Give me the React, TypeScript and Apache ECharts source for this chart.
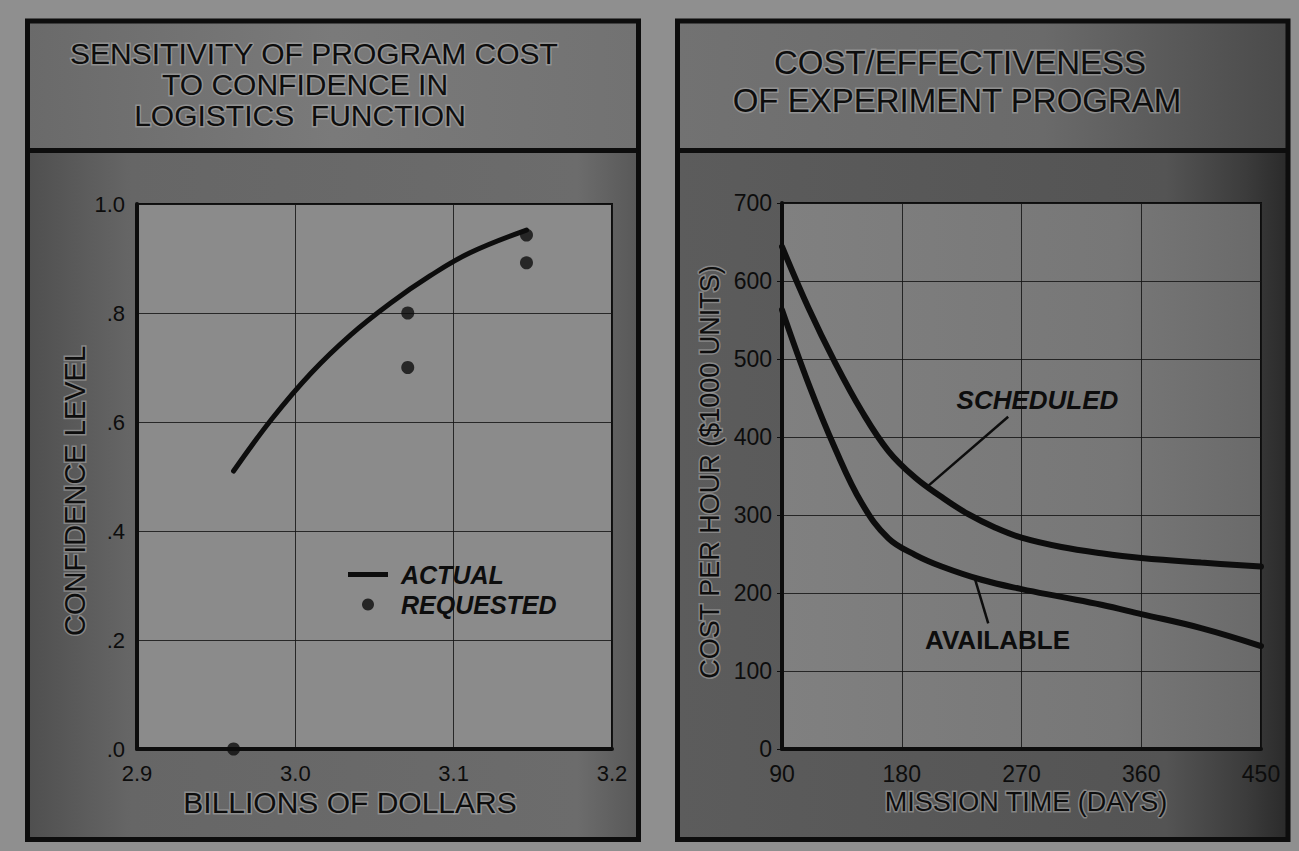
import React, { useEffect, useRef } from 'react';
import * as echarts from 'echarts';

// ---- Left chart: sensitivity of program cost ----
const costTicks = ['2.9', '3.0', '3.1', '3.2'];
const confidenceTicks = ['.0', '.2', '.4', '.6', '.8', '1.0'];
const actualCost = [2.961, 2.985, 3.01, 3.035, 3.06, 3.085, 3.11, 3.146];
const actualConfidence = [0.51, 0.605, 0.69, 0.76, 0.818, 0.868, 0.91, 0.952];
const requestedCost = [2.961, 3.071, 3.071, 3.146, 3.146];
const requestedConfidence = [0.0, 0.8, 0.7, 0.943, 0.892];

// ---- Right chart: cost / effectiveness ----
const missionTicks = ['90', '180', '270', '360', '450'];
const costPerHourTicks = ['0', '100', '200', '300', '400', '500', '600', '700'];
const scheduledDays = [90, 110, 130, 150, 170, 190, 210, 230, 250, 270, 300, 330, 360, 405, 450];
const scheduledCost = [644, 565, 495, 433, 382, 348, 323, 301, 284, 271, 259, 251, 245, 239, 234];
const availableDays = [90, 110, 130, 150, 170, 190, 210, 240, 270, 300, 330, 360, 405, 450];
const availableCost = [563, 468, 385, 315, 270, 249, 234, 217, 205, 195, 185, 173, 155, 132];

// annotation anchors (data coordinates)
const scheduledPointer = [[260, 426], [199, 336]];
const scheduledLabelAt = [282, 447];
const availablePointer = [[245, 161], [235, 218]];
const availableLabelAt = [252, 140];

const FONT = '"Liberation Sans", Arial, sans-serif';
const INK = '#0d0d0d';

const lin = (stops: [number, string][], vertical = false) =>
  new echarts.graphic.LinearGradient(0, 0, vertical ? 0 : 1, vertical ? 1 : 0,
    stops.map(([offset, color]) => ({ offset, color })));

const txt = (text: string, x: number, y: number, size: number, extra: any = {}) => ({
  type: 'text',
  x,
  y,
  z: 30,
  rotation: extra.rotation || 0,
  style: {
    text,
    fill: INK,
    fontSize: size,
    fontFamily: FONT,
    fontWeight: extra.weight || 'normal',
    align: 'center',
    verticalAlign: 'middle',
    stroke: 'rgba(175,175,175,0.55)',
    lineWidth: 3,
    strokeFirst: true,
  },
});

function buildOption() {
  const graphic: any[] = [
    // left panel fills
    { type: 'rect', z: -20, shape: { x: 27.5, y: 21, width: 611, height: 130 },
      style: { fill: lin([[0, '#6a6a6a'], [0.5, '#7a7a7a'], [1, '#727272']]) } },
    { type: 'rect', z: -20, shape: { x: 27.5, y: 150, width: 611, height: 689.5 },
      style: { fill: lin([[0, '#4f4f4f'], [0.17, '#666666'], [0.9, '#6c6c6c'], [1, '#585858']]) } },
    // right panel fills
    { type: 'rect', z: -20, shape: { x: 677.5, y: 21, width: 610.5, height: 130 },
      style: { fill: lin([[0, '#727272'], [0.6, '#6a6a6a'], [1, '#4a4a4a']]) } },
    { type: 'rect', z: -20, shape: { x: 677.5, y: 150, width: 610.5, height: 689.5 },
      style: { fill: lin([[0, '#5c5c5c'], [0.8, '#545454'], [0.93, '#3c3c3c'], [1, '#2a2a2a']]) } },
    // borders
    { type: 'rect', z: 25, shape: { x: 27.5, y: 21, width: 611, height: 818.5 },
      style: { fill: 'none', stroke: INK, lineWidth: 5 } },
    { type: 'line', z: 25, shape: { x1: 27.5, y1: 150.5, x2: 638.5, y2: 150.5 },
      style: { stroke: INK, lineWidth: 5 } },
    { type: 'rect', z: 25, shape: { x: 677.5, y: 21, width: 610.5, height: 818.5 },
      style: { fill: 'none', stroke: INK, lineWidth: 5 } },
    { type: 'line', z: 25, shape: { x1: 677.5, y1: 150.5, x2: 1288, y2: 150.5 },
      style: { stroke: INK, lineWidth: 5 } },
    // titles
    txt('SENSITIVITY OF PROGRAM COST', 314, 53, 30),
    txt('TO CONFIDENCE IN', 305, 84, 30),
    txt('LOGISTICS  FUNCTION', 300, 115, 30),
    txt('COST/EFFECTIVENESS', 960, 62, 33),
    txt('OF EXPERIMENT PROGRAM', 957, 100, 33),
    // axis titles
    txt('CONFIDENCE LEVEL', 75, 491, 29, { rotation: Math.PI / 2 }),
    txt('BILLIONS OF DOLLARS', 350, 802, 30),
    txt('COST PER HOUR ($1000 UNITS)', 710, 472, 27, { rotation: Math.PI / 2 }),
    txt('MISSION TIME (DAYS)', 1026, 802, 27),
  ];

  const splitLine = { show: true, lineStyle: { color: '#151515', width: 1, opacity: 0.85 } };
  const tickLabel = { color: INK, fontSize: 22, fontFamily: FONT };

  const labelStyle = (weight: string, italic: boolean) => ({
    show: true,
    position: 'inside',
    formatter: (p: any) => p.name,
    color: INK,
    fontSize: 26,
    fontWeight: weight,
    fontStyle: italic ? 'italic' : 'normal',
    fontFamily: FONT,
  });

  return {
    animation: false,
    backgroundColor: '#8f8f8f',
    graphic,
    legend: {
      left: 343,
      top: 557,
      orient: 'vertical',
      itemWidth: 40,
      itemHeight: 12,
      itemGap: 5,
      selectedMode: false,
      data: [
        { name: 'ACTUAL', icon: 'path://M0,0H40V5H0Z' },
        { name: 'REQUESTED', icon: 'circle' },
      ],
      textStyle: {
        color: INK,
        fontSize: 25,
        lineHeight: 22,
        fontWeight: 'bold',
        fontStyle: 'italic',
        fontFamily: FONT,
        padding: [0, 0, 0, 8],
      },
    },
    grid: [
      { left: 137, top: 204, width: 475, height: 545, show: true,
        backgroundColor: '#8b8b8b', borderColor: INK, borderWidth: 2 },
      { left: 782, top: 203, width: 479, height: 546, show: true,
        backgroundColor: lin([[0, '#808080'], [0.7, '#777777'], [1, '#6a6a6a']]),
        borderColor: INK, borderWidth: 2 },
    ],
    xAxis: [
      { type: 'value', gridIndex: 0, min: 2.9, max: 3.2, interval: 0.1,
        axisLine: { show: true, onZero: false, lineStyle: { color: INK, width: 4 } },
        axisTick: { show: false }, splitLine,
        axisLabel: { ...tickLabel, margin: 13,
          formatter: (v: number) => costTicks[Math.round((v - 2.9) * 10)] ?? '' } },
      { type: 'value', gridIndex: 1, min: 90, max: 450, interval: 90,
        axisLine: { show: true, onZero: false, lineStyle: { color: INK, width: 4 } },
        axisTick: { show: false }, splitLine,
        axisLabel: { ...tickLabel, fontSize: 23, margin: 13,
          formatter: (v: number) => missionTicks[Math.round((v - 90) / 90)] ?? '' } },
    ],
    yAxis: [
      { type: 'value', gridIndex: 0, min: 0, max: 1, interval: 0.2,
        axisLine: { show: true, lineStyle: { color: INK, width: 4 } },
        axisTick: { show: false }, splitLine,
        axisLabel: { ...tickLabel, margin: 12,
          formatter: (v: number) => confidenceTicks[Math.round(v * 5)] ?? '' } },
      { type: 'value', gridIndex: 1, min: 0, max: 700, interval: 100,
        axisLine: { show: true, lineStyle: { color: INK, width: 4 } },
        axisTick: { show: true, length: 5, lineStyle: { color: INK, width: 1 } }, splitLine,
        axisLabel: { ...tickLabel, fontSize: 23, margin: 10,
          formatter: (v: number) => costPerHourTicks[Math.round(v / 100)] ?? '' } },
    ],
    series: [
      { name: 'ACTUAL', type: 'line', xAxisIndex: 0, yAxisIndex: 0,
        data: actualCost.map((x, i) => [x, actualConfidence[i]]),
        smooth: 0.4, symbol: 'none',
        lineStyle: { color: INK, width: 5, cap: 'round' }, itemStyle: { color: INK }, z: 3 },
      { name: 'REQUESTED', type: 'scatter', xAxisIndex: 0, yAxisIndex: 0,
        data: requestedCost.map((x, i) => [x, requestedConfidence[i]]),
        symbolSize: 13, itemStyle: { color: INK }, clip: false, z: 4 },
      { name: 'SCHEDULED', type: 'line', xAxisIndex: 1, yAxisIndex: 1,
        data: scheduledDays.map((x, i) => [x, scheduledCost[i]]),
        smooth: 0.4, symbol: 'none',
        lineStyle: { color: INK, width: 6, cap: 'round' }, itemStyle: { color: INK }, z: 3 },
      { name: 'AVAILABLE', type: 'line', xAxisIndex: 1, yAxisIndex: 1,
        data: availableDays.map((x, i) => [x, availableCost[i]]),
        smooth: 0.4, symbol: 'none',
        lineStyle: { color: INK, width: 6, cap: 'round' }, itemStyle: { color: INK }, z: 3 },
      { name: 'scheduled-pointer', type: 'line', xAxisIndex: 1, yAxisIndex: 1,
        data: scheduledPointer, symbol: 'none', silent: true,
        lineStyle: { color: INK, width: 2.5 }, z: 3,
        markPoint: { symbol: 'rect', symbolSize: 1, silent: true,
          itemStyle: { color: 'rgba(0,0,0,0)' },
          label: labelStyle('bold', true),
          data: [{ name: 'SCHEDULED', coord: scheduledLabelAt }] } },
      { name: 'available-pointer', type: 'line', xAxisIndex: 1, yAxisIndex: 1,
        data: availablePointer, symbol: 'none', silent: true,
        lineStyle: { color: INK, width: 2.5 }, z: 3,
        markPoint: { symbol: 'rect', symbolSize: 1, silent: true,
          itemStyle: { color: 'rgba(0,0,0,0)' },
          label: labelStyle('bold', false),
          data: [{ name: 'AVAILABLE', coord: availableLabelAt }] } },
    ],
  };
}

export default function App() {
  const ref = useRef<HTMLDivElement>(null);
  useEffect(() => {
    if (!ref.current) return;
    const chart = echarts.init(ref.current, undefined, { renderer: 'svg' });
    chart.setOption(buildOption() as any);
    return () => chart.dispose();
  }, []);
  return (
    <div
      ref={ref}
      style={{ position: 'fixed', left: 0, top: 0, width: 1299, height: 851 }}
    />
  );
}
